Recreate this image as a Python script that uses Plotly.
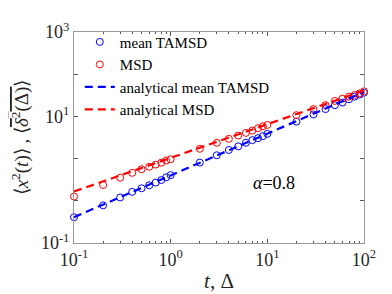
import plotly.graph_objects as go

# ---- data ----
t_vals = [0.1, 0.2, 0.3, 0.4, 0.5, 0.6, 0.7, 0.8, 0.9, 1,
          2, 3, 4, 5, 6, 7, 8, 9, 10,
          20, 30, 40, 50, 60, 70, 80, 90, 100]
tamsd_vals = [0.041, 0.078, 0.12, 0.163, 0.198, 0.233, 0.27, 0.31, 0.36, 0.406,
              0.805, 1.20, 1.60, 1.95, 2.37, 2.74, 3.05, 3.40, 3.86,
              7.5, 11.1, 14.9, 18.4, 21.3, 25.5, 29.4, 32.8, 36.5]
msd_vals = [0.126, 0.237, 0.352, 0.46, 0.56, 0.64, 0.72, 0.80, 0.90, 0.96,
            1.71, 2.37, 2.94, 3.52, 4.07, 4.61, 5.24, 5.83, 6.27,
            10.7, 14.9, 18.5, 23.3, 26.4, 29.4, 32.2, 35.2, 39.3]
line_t = [0.1, 1, 10, 100]
an_tamsd_vals = [0.041, 0.40, 3.9, 38.0]
an_msd_vals = [0.166, 1.05, 6.6, 41.0]

x_tickvals = [0.1, 1, 10, 100]
x_ticktext = ["10<sup>-1</sup>", "10<sup>0</sup>", "10<sup>1</sup>", "10<sup>2</sup>"]
y_tickvals = [0.01, 0.1, 1, 10, 100, 1000]
y_ticktext = ["10<sup>-1</sup>", "", "", "10<sup>1</sup>", "", "10<sup>3</sup>"]

BLUE = "#0000FF"
RED = "#FF0000"
FONT = "Liberation Serif"

fig = go.Figure()
fig.add_trace(go.Scatter(x=t_vals, y=tamsd_vals, mode="markers", name="mean TAMSD",
                         marker=dict(symbol="circle-open", size=7, color=BLUE, line=dict(width=1)),
                         cliponaxis=False))
fig.add_trace(go.Scatter(x=t_vals, y=msd_vals, mode="markers", name="MSD",
                         marker=dict(symbol="circle-open", size=7, color=RED, line=dict(width=1)),
                         cliponaxis=False))
fig.add_trace(go.Scatter(x=line_t, y=an_tamsd_vals, mode="lines", name="analytical mean TAMSD",
                         line=dict(color=BLUE, width=2.2, dash="8px,5px")))
fig.add_trace(go.Scatter(x=line_t, y=an_msd_vals, mode="lines", name="analytical MSD",
                         line=dict(color=RED, width=2.2, dash="8px,5px")))

minor_x = [m * 10 ** e for e in (-1, 0, 1) for m in range(2, 10)]

fig.update_xaxes(type="log", range=[-1, 2], showgrid=False, zeroline=False,
                 tickmode="array", tickvals=x_tickvals, ticktext=x_ticktext,
                 ticks="inside", ticklen=4, tickcolor="#555", mirror="allticks",
                 showline=True, linecolor="#999", linewidth=1,
                 minor=dict(ticks="inside", ticklen=2, tickcolor="#555", tickvals=minor_x),
                 tickfont=dict(family=FONT, size=18, color="#262626"),
                 title=dict(text="<i>t</i>, Δ", font=dict(family=FONT, size=21, color="#262626"),
                            standoff=4))
fig.update_yaxes(type="log", range=[-2, 3], showgrid=False, zeroline=False,
                 tickmode="array", tickvals=y_tickvals, ticktext=y_ticktext,
                 ticks="inside", ticklen=4, tickcolor="#555", mirror="allticks",
                 showline=True, linecolor="#999", linewidth=1,
                 tickfont=dict(family=FONT, size=18, color="#262626"),
                 title=dict(text="⟨<i>x</i><sup>2</sup>(<i>t</i>)⟩ , ⟨<span style='text-decoration:overline'><i>δ</i><sup>2</sup>(Δ)</span>⟩",
                            font=dict(family=FONT, size=19, color="#262626"), standoff=8))

fig.add_annotation(xref="paper", yref="paper", x=0.61, y=0.282, xanchor="left", yanchor="middle",
                   text="<i>α</i>=0.8", showarrow=False,
                   font=dict(family=FONT, size=18, color="#000"))

fig.update_layout(width=392, height=294,
                  margin=dict(l=66, r=36, t=22, b=59),
                  paper_bgcolor="white", plot_bgcolor="white",
                  showlegend=True,
                  legend=dict(x=0.02, y=1.03, xanchor="left", yanchor="top",
                              bgcolor="rgba(0,0,0,0)", borderwidth=0,
                              font=dict(family=FONT, size=15, color="#000"),
                              tracegroupgap=0, itemwidth=30))

fig.write_html("out.html")
